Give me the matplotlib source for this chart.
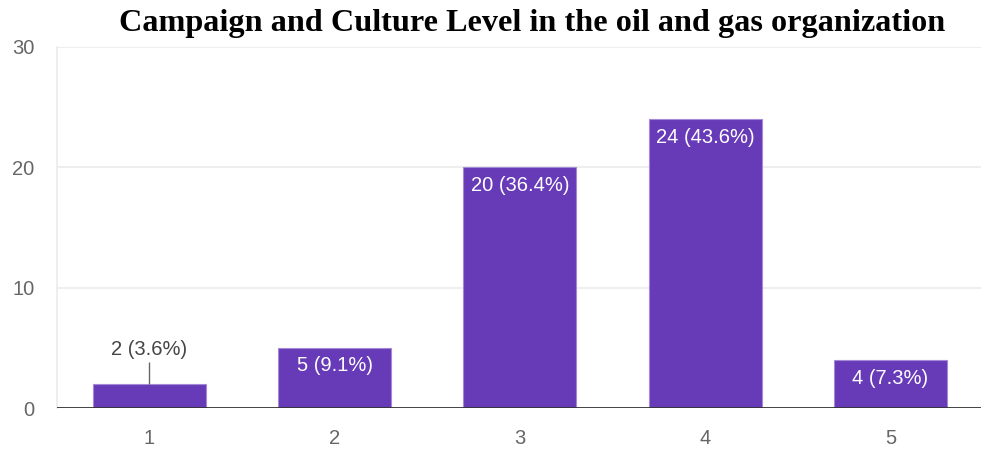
import matplotlib
matplotlib.use('Agg')
import matplotlib.pyplot as plt

categories = ['1', '2', '3', '4', '5']
counts = [2, 5, 20, 24, 4]
percents = [3.6, 9.1, 36.4, 43.6, 7.3]
yticks = [0, 10, 20, 30]

bar_color = '#673ab7'

fig = plt.figure(figsize=(9.81, 4.5), dpi=100)
ax = fig.add_axes([0.058, 0.093, 0.944, 0.803])

x = list(range(1, len(categories) + 1))
bars = ax.bar(x, counts, width=0.61, color=bar_color, edgecolor='#a48ad6',
              linewidth=0.8, zorder=3)

ax.set_xlim(0.5, 5.5)
ax.set_ylim(0, 30)
ax.set_yticks(yticks)
ax.set_xticks(x)
ax.set_xticklabels(categories)
ax.tick_params(axis='both', length=0, labelsize=14.5, labelcolor='#666666',
               labelfontfamily='Liberation Sans')
ax.tick_params(axis='x', pad=15)
ax.tick_params(axis='y', pad=16)

ax.grid(axis='y', color='#ebebeb', linewidth=1.2, zorder=0)
for s in ['top', 'right', 'bottom']:
    ax.spines[s].set_visible(False)
ax.spines['left'].set_color('#ebebeb')
ax.spines['left'].set_linewidth(1.2)
ax.axhline(0, color='#333333', linewidth=2, zorder=4)

for xi, c, p in zip(x, counts, percents):
    label = f'{c} ({p}%)'
    if c < 4:
        # label above the short bar with a leader line
        ax.annotate(label, xy=(xi, c), xytext=(0, 25), textcoords='offset points',
                    ha='center', va='center', fontsize=14.5, color='#444444',
                    family='Liberation Sans',
                    arrowprops=dict(arrowstyle='-', color='#666666', lw=1,
                                    shrinkA=1, shrinkB=0))
    else:
        ax.annotate(label, xy=(xi, c), xytext=(0, -13), textcoords='offset points',
                    ha='center', va='center', fontsize=14.5, color='white',
                    family='Liberation Sans', zorder=5)

fig.text(532 / 981, 1 - 24 / 450, 'Campaign and Culture Level in the oil and gas organization',
         ha='center', va='center', fontsize=23.2, fontweight='bold',
         family='Liberation Serif')

fig.savefig('out.png', dpi=100)
